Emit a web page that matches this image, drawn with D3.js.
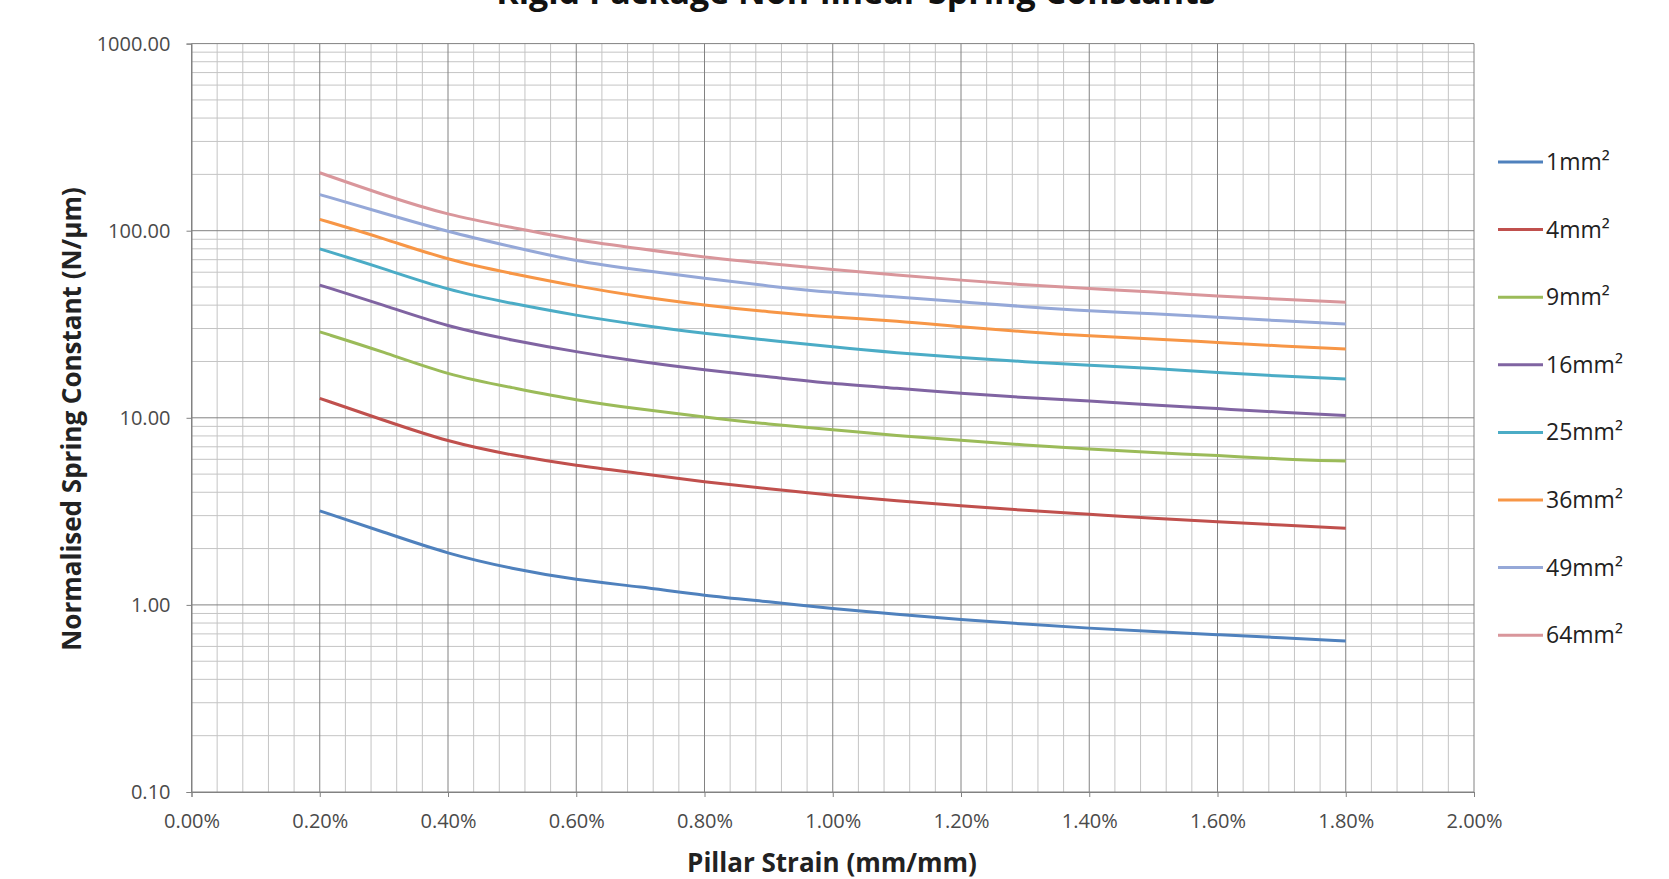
<!DOCTYPE html>
<html>
<head>
<meta charset="utf-8">
<script src="https://cdn.jsdelivr.net/npm/d3@7"></script>
<style>
  body { margin: 0; background: #fff; }
  text { font-family: "Open Sans", sans-serif; }
</style>
</head>
<body>
<svg id="chart" width="1669" height="879"></svg>
<script>
// pillar strain, in %
const strain = [0.2, 0.3, 0.4, 0.5, 0.6, 0.7, 0.8, 0.9, 1.0, 1.1, 1.2, 1.3, 1.4, 1.5, 1.6, 1.7, 1.8];

const s1mm  = [3.18, 2.45, 1.87, 1.56, 1.36, 1.25, 1.12, 1.04, 0.955, 0.89, 0.834, 0.79, 0.75, 0.72, 0.693, 0.667, 0.641];
const s4mm  = [12.7, 9.7, 7.43, 6.3, 5.55, 5.04, 4.54, 4.18, 3.85, 3.6, 3.38, 3.2, 3.05, 2.9, 2.78, 2.67, 2.57];
const s9mm  = [28.8, 22.5, 16.9, 14.5, 12.4, 11.1, 10.1, 9.24, 8.65, 8.0, 7.6, 7.15, 6.8, 6.5, 6.3, 6.0, 5.87];
const s16mm = [51.2, 40, 30.6, 26, 22.5, 19.9, 18, 16.6, 15.2, 14.4, 13.5, 12.8, 12.3, 11.7, 11.2, 10.7, 10.3];
const s25mm = [80, 62.8, 48, 40.8, 35.2, 31.3, 28.2, 26, 23.9, 22.2, 21, 19.9, 19.1, 18.4, 17.4, 16.7, 16.1];
const s36mm = [115, 91, 69.6, 59, 50.5, 44.3, 40, 36.8, 34.4, 33, 30.6, 28.8, 27.3, 26.5, 25.2, 24.2, 23.3];
const s49mm = [156, 124, 98.6, 82, 68.5, 61.5, 55.6, 50.6, 46.6, 44.3, 41.7, 39.2, 37.2, 36.1, 34.4, 33, 31.7];
const s64mm = [204, 155, 121, 104, 89, 80, 72, 66.8, 62, 58, 54.4, 51.2, 49, 47.1, 44.7, 42.9, 41.5];

const seriesNames = ["1mm²", "4mm²", "9mm²", "16mm²", "25mm²", "36mm²", "49mm²", "64mm²"];
const seriesValues = [s1mm, s4mm, s9mm, s16mm, s25mm, s36mm, s49mm, s64mm];
const colors = ["#4f81bd", "#c0504d", "#9bbb59", "#8064a2", "#4bacc6", "#f79646", "#95a8d8", "#d9969b"];

const xTicks = [0, 0.2, 0.4, 0.6, 0.8, 1.0, 1.2, 1.4, 1.6, 1.8, 2.0];
const yTicks = [0.1, 1, 10, 100, 1000];

const svg = d3.select("#chart");

const x = d3.scaleLinear().domain([0, 2]).range([191.5, 1474]);
const y = d3.scaleLog().domain([0.1, 1000]).range([792, 43.6]);

// minor grid
const xMinor = d3.range(0, 2.0001, 0.04).filter(v => Math.abs(v / 0.2 - Math.round(v / 0.2)) > 1e-6);
const yMinor = [];
[0.1, 1, 10, 100].forEach(d => {
  for (let k = 2; k <= 9; k++) yMinor.push(d * k);
});

const grid = svg.append("g");
grid.selectAll(".vminor")
  .data(xMinor)
  .join("line")
  .attr("x1", d => x(d)).attr("x2", d => x(d))
  .attr("y1", y(1000)).attr("y2", y(0.1))
  .attr("stroke", "#c4c4c4");
grid.selectAll(".hminor")
  .data(yMinor)
  .join("line")
  .attr("y1", d => y(d)).attr("y2", d => y(d))
  .attr("x1", x(0)).attr("x2", x(2))
  .attr("stroke", "#c4c4c4");
grid.selectAll(".vmajor")
  .data(xTicks)
  .join("line")
  .attr("x1", d => x(d)).attr("x2", d => x(d))
  .attr("y1", y(1000)).attr("y2", y(0.1))
  .attr("stroke", "#828282");
grid.selectAll(".hmajor")
  .data(yTicks)
  .join("line")
  .attr("y1", d => y(d)).attr("y2", d => y(d))
  .attr("x1", x(0)).attr("x2", x(2))
  .attr("stroke", "#828282");

// axes
const xAxis = svg.append("g")
  .attr("transform", `translate(0,${y(0.1)})`)
  .call(d3.axisBottom(x).tickValues(xTicks).tickSize(5).tickPadding(17)
    .tickFormat(d => d3.format(".2f")(d) + "%"));
const yAxis = svg.append("g")
  .attr("transform", `translate(${x(0)},0)`)
  .call(d3.axisLeft(y).tickValues(yTicks).tickSize(5).tickPadding(16)
    .tickFormat(d3.format(".2f")));

[xAxis, yAxis].forEach(a => {
  a.select(".domain").attr("stroke", "#828282");
  a.selectAll(".tick line").attr("stroke", "#828282");
  a.selectAll(".tick text")
    .attr("fill", "#4a4a4a")
    .style("font-size", "20px");
});

// lines
const line = d3.line()
  .x((d, i) => x(strain[i]))
  .y(d => y(d))
  .curve(d3.curveBasis);

svg.append("g")
  .selectAll("path")
  .data(seriesValues)
  .join("path")
  .attr("d", d => line(d))
  .attr("fill", "none")
  .attr("stroke", (d, i) => colors[i])
  .attr("stroke-width", 3);

// legend
const legend = svg.append("g")
  .selectAll("g")
  .data(seriesNames)
  .join("g")
  .attr("transform", (d, i) => `translate(1498,${162 + i * 67.6})`);
legend.append("line")
  .attr("x1", 0).attr("x2", 45)
  .attr("stroke", (d, i) => colors[i])
  .attr("stroke-width", 3);
legend.append("text")
  .attr("x", 48)
  .attr("dy", "0.35em")
  .attr("fill", "#222")
  .style("font-size", "23px")
  .text(d => d);

// titles
svg.append("text")
  .attr("x", 856)
  .attr("y", 4)
  .attr("text-anchor", "middle")
  .style("font-size", "34px")
  .style("font-weight", "bold")
  .attr("fill", "#111")
  .text("Rigid Package Non-linear Spring Constants");

svg.append("text")
  .attr("x", 832)
  .attr("y", 872)
  .attr("text-anchor", "middle")
  .style("font-size", "26px")
  .style("font-weight", "bold")
  .attr("fill", "#222")
  .text("Pillar Strain (mm/mm)");

svg.append("text")
  .attr("transform", "translate(81,419) rotate(-90)")
  .attr("text-anchor", "middle")
  .style("font-size", "26px")
  .style("font-weight", "bold")
  .attr("fill", "#222")
  .text("Normalised Spring Constant (N/µm)");
</script>
</body>
</html>
